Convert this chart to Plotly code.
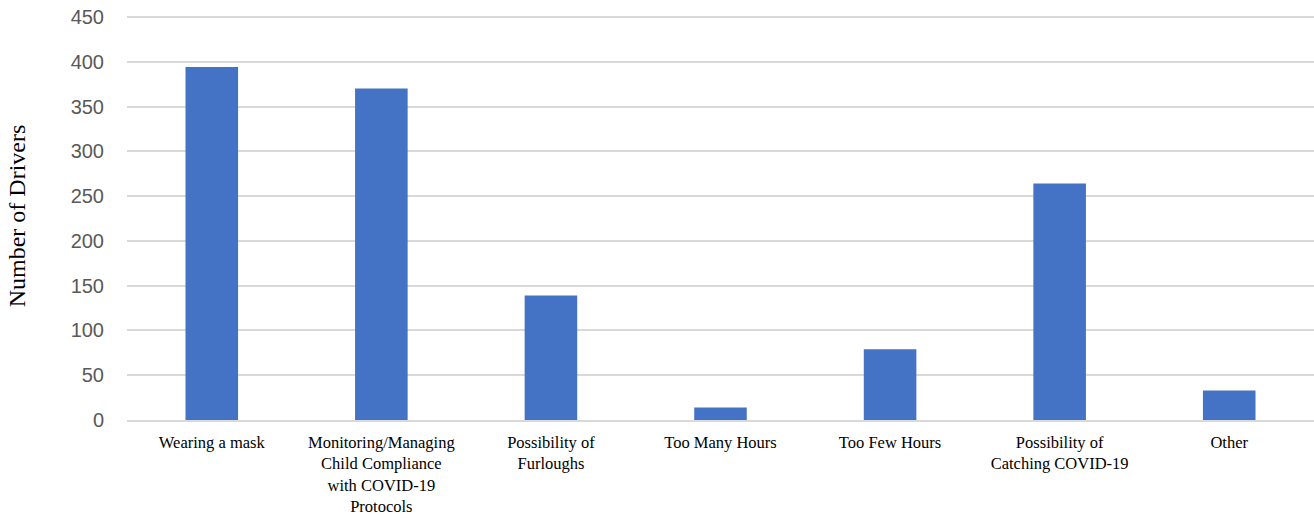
"""Bar chart: driver concerns about returning to work."""

import plotly.graph_objects as go

CATEGORIES = [
    "Wearing a mask",
    "Monitoring/Managing<br>Child Compliance<br>with COVID-19<br>Protocols",
    "Possibility of<br>Furloughs",
    "Too Many Hours",
    "Too Few Hours",
    "Possibility of<br>Catching COVID-19",
    "Other",
]
DRIVER_COUNTS = [394, 370, 139, 14, 79, 264, 33]
Y_TICKS = [0, 50, 100, 150, 200, 250, 300, 350, 400, 450]

BAR_COLOR = "#4472C4"
GRID_COLOR = "#d9d9d9"
SERIF = "Liberation Serif, Times New Roman, serif"

fig = go.Figure(
    go.Bar(
        x=CATEGORIES,
        y=DRIVER_COUNTS,
        marker=dict(color=BAR_COLOR, line=dict(width=0)),
    )
)

fig.update_layout(
    width=1314,
    height=518,
    margin=dict(l=127, r=0, t=12, b=98),
    paper_bgcolor="white",
    plot_bgcolor="white",
    bargap=0.69,
    showlegend=False,
)

fig.update_xaxes(
    automargin=False,
    tickfont=dict(family=SERIF, size=16.5, color="#000000"),
    ticklabelstandoff=6,
    showgrid=False,
    showline=True,
    linecolor=GRID_COLOR,
    linewidth=2,
    ticks="",
    tickangle=0,
)

# headroom above 450 so the top gridline sits inside the plot area and gets drawn
fig.update_yaxes(
    automargin=False,
    range=[0, 455.5],
    tickvals=Y_TICKS,
    tickfont=dict(family="Liberation Sans, Arial, sans-serif", size=20, color="#595959"),
    ticklabelstandoff=22,
    showgrid=True,
    gridcolor=GRID_COLOR,
    gridwidth=1.5,
    zeroline=False,
    title=dict(
        text="Number of Drivers",
        font=dict(family=SERIF, size=24, color="#000000"),
        standoff=38,
    ),
)

# drop the default 8px body margin so the figure fills the window exactly
fig.write_html(
    "out.html",
    config={"displayModeBar": False},
    post_script="document.body.style.margin = '0';",
)
